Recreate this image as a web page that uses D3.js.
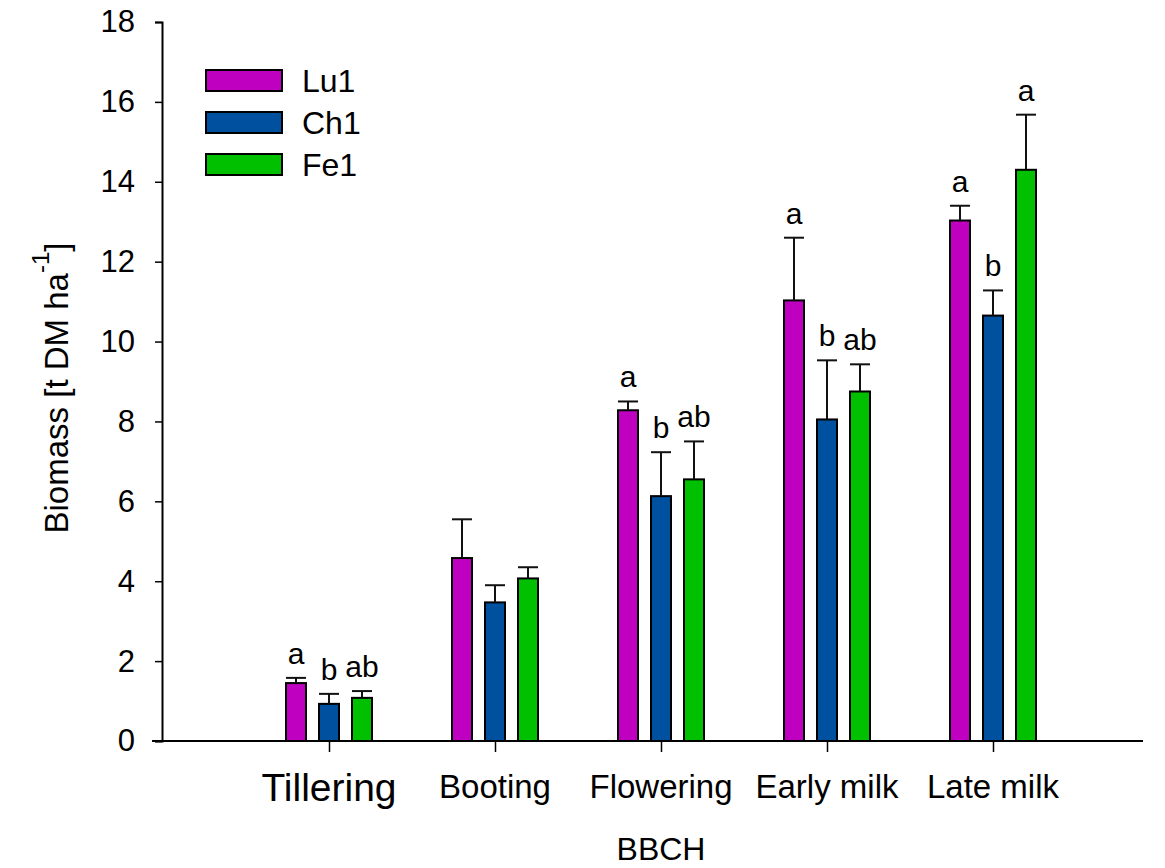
<!DOCTYPE html>
<html>
<head>
<meta charset="utf-8">
<script src="https://cdn.jsdelivr.net/npm/d3@7"></script>
<style>
  body { margin: 0; background: #fff; }
  text { font-family: "Liberation Sans", Arial, sans-serif; fill: #000; }
</style>
</head>
<body>
<div id="row"></div>
<script>

// values
var stages = ["Tillering", "Booting", "Flowering", "Early milk", "Late milk"];
var series = ["Lu1", "Ch1", "Fe1"];

var lu1Mean = [1.45, 4.58, 8.28, 11.03, 13.03];
var lu1Err  = [0.13, 0.97, 0.22, 1.57, 0.37];
var ch1Mean = [0.93, 3.47, 6.13, 8.05, 10.65];
var ch1Err  = [0.25, 0.43, 1.10, 1.48, 0.63];
var fe1Mean = [1.08, 4.07, 6.55, 8.75, 14.30];
var fe1Err  = [0.17, 0.28, 0.95, 0.68, 1.38];

var lu1Letters = ["a", "", "a", "a", "a"];
var ch1Letters = ["b", "", "b", "b", "b"];
var fe1Letters = ["ab", "", "ab", "ab", "a"];

var yTicks = [0, 2, 4, 6, 8, 10, 12, 14, 16, 18];

var colors = { Lu1: "#c000c0", Ch1: "#0050a0", Fe1: "#00c000" };

var means = { Lu1: lu1Mean, Ch1: ch1Mean, Fe1: fe1Mean };
var errs = { Lu1: lu1Err, Ch1: ch1Err, Fe1: fe1Err };
var letters = { Lu1: lu1Letters, Ch1: ch1Letters, Fe1: fe1Letters };

var rows = [];
stages.forEach(function(s, i) {
  series.forEach(function(k) {
    rows.push({ stage: s, key: k, mean: means[k][i], err: errs[k][i], letter: letters[k][i] });
  });
});

var svgWidth = 1165;
var svgHeight = 868;

var svg = d3.select("#row")
  .append("svg")
  .attr("width", svgWidth)
  .attr("height", svgHeight);

var y = d3.scaleLinear().domain([0, 18]).range([741, 22]);
var x = d3.scalePoint().domain(stages).range([163, 1159]).padding(1);
var xInner = d3.scalePoint().domain(series).range([-33, 33]);
var barW = 20;
var axisX = 162;

// bars
svg.append("g")
  .selectAll("rect")
  .data(rows)
  .enter()
  .append("rect")
  .attr("x", d => x(d.stage) + xInner(d.key) - barW / 2)
  .attr("y", d => y(d.mean))
  .attr("width", barW)
  .attr("height", d => y(0) - y(d.mean))
  .attr("fill", d => colors[d.key])
  .attr("stroke", "#000")
  .attr("stroke-width", 2);

// error bars, upper half only
var eb = svg.append("g")
  .attr("stroke", "#111")
  .attr("stroke-width", 2);

eb.selectAll("line.v")
  .data(rows)
  .enter()
  .append("line")
  .attr("class", "v")
  .attr("x1", d => x(d.stage) + xInner(d.key))
  .attr("x2", d => x(d.stage) + xInner(d.key))
  .attr("y1", d => y(d.mean))
  .attr("y2", d => y(d.mean + d.err));

eb.selectAll("line.c")
  .data(rows)
  .enter()
  .append("line")
  .attr("class", "c")
  .attr("x1", d => x(d.stage) + xInner(d.key) - barW / 2)
  .attr("x2", d => x(d.stage) + xInner(d.key) + barW / 2)
  .attr("y1", d => y(d.mean + d.err))
  .attr("y2", d => y(d.mean + d.err));

// significance letters
svg.append("g")
  .selectAll("text")
  .data(rows.filter(d => d.letter))
  .enter()
  .append("text")
  .attr("x", d => x(d.stage) + xInner(d.key))
  .attr("y", d => y(d.mean + d.err) - 14)
  .attr("text-anchor", "middle")
  .style("font-size", "30px")
  .text(d => d.letter);

// y axis
var leftAxis = d3.axisLeft(y)
  .tickValues(yTicks)
  .tickSize(7)
  .tickPadding(20);

var yAxis = svg.append("g")
  .attr("transform", `translate(${axisX},0)`)
  .call(leftAxis);

yAxis.select(".domain").attr("stroke-width", 2);
yAxis.selectAll(".tick line").attr("stroke-width", 1.5);
yAxis.selectAll("text")
  .style("font-size", "31px")
  .style("font-family", "'Liberation Sans', Arial, sans-serif");

// x axis
svg.append("line")
  .attr("x1", 152)
  .attr("x2", 1143)
  .attr("y1", y(0))
  .attr("y2", y(0))
  .attr("stroke", "#000")
  .attr("stroke-width", 2);

var bottomAxis = d3.axisBottom(x).tickSize(11).tickFormat("");
var xAxis = svg.append("g")
  .attr("transform", `translate(0,${y(0)})`)
  .call(bottomAxis);
xAxis.select(".domain").remove();
xAxis.selectAll(".tick line").attr("stroke-width", 1.5);

svg.append("g")
  .selectAll("text")
  .data(stages)
  .enter()
  .append("text")
  .attr("x", d => x(d))
  .attr("y", (d, i) => i === 0 ? 801 : 798)
  .attr("text-anchor", "middle")
  .style("font-size", (d, i) => i === 0 ? "39px" : "33px")
  .text(d => d);

svg.append("text")
  .attr("x", x(stages[2]))
  .attr("y", 860)
  .attr("text-anchor", "middle")
  .style("font-size", "32px")
  .text("BBCH");

// y label with superscript
var yl = svg.append("text")
  .attr("transform", "translate(68,388) rotate(-90)")
  .attr("text-anchor", "middle")
  .style("font-size", "33px");
yl.append("tspan").text("Biomass [t DM ha");
yl.append("tspan").attr("dy", -19).style("font-size", "24px").text("-1");
yl.append("tspan").attr("dy", 19).text("]");

// legend
var legend = svg.append("g");
series.forEach(function(k, i) {
  legend.append("rect")
    .attr("x", 206)
    .attr("y", 70 + i * 42)
    .attr("width", 76)
    .attr("height", 21)
    .attr("fill", colors[k])
    .attr("stroke", "#000")
    .attr("stroke-width", 2);
  legend.append("text")
    .attr("x", 302)
    .attr("y", 92 + i * 42)
    .style("font-size", "32px")
    .text(k);
});

</script>
</body>
</html>
